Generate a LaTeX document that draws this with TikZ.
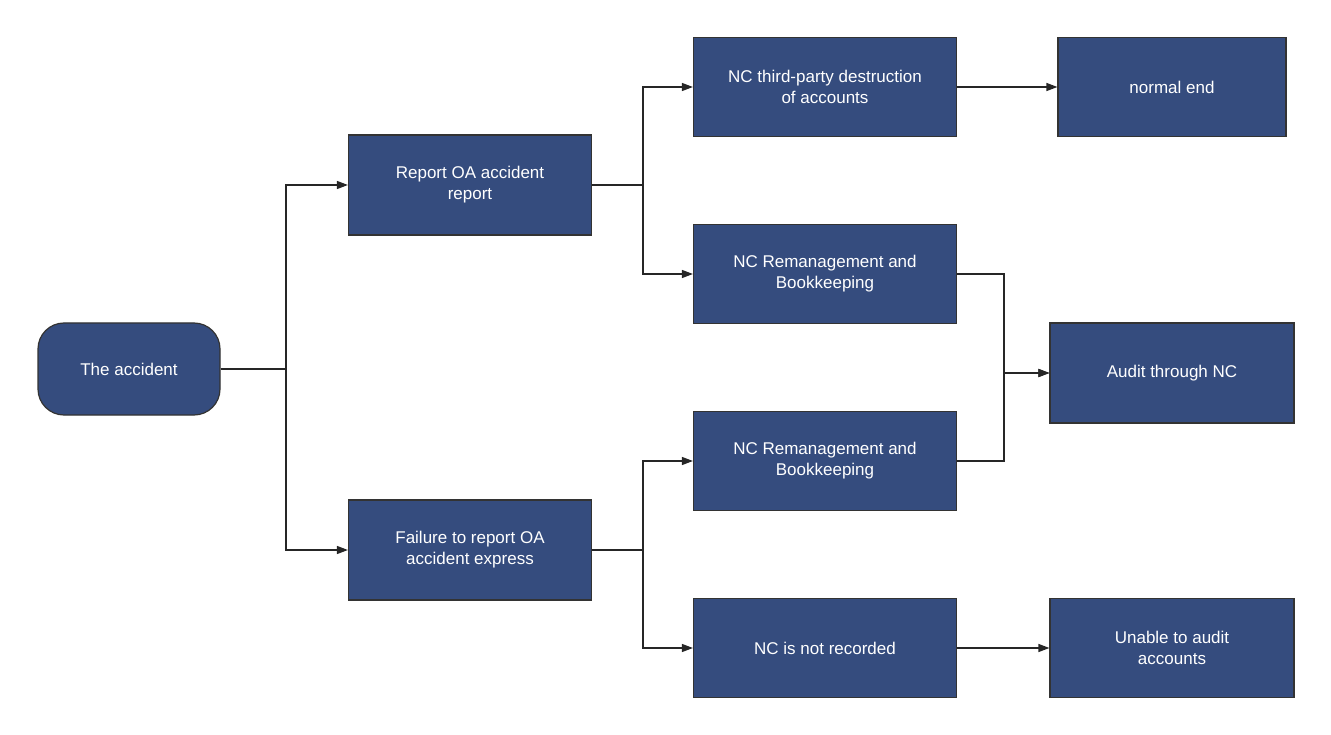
\documentclass[tikz,border=0pt]{standalone}
\usepackage{fontspec}
\setmainfont{Liberation Sans}
\usetikzlibrary{arrows.meta}
\begin{document}
\begin{tikzpicture}[x=1pt,y=-1pt,
 box/.style={draw=black!80,line width=1.2pt,fill={rgb,255:red,53;green,76;blue,126},text=white,align=center,font=\fontsize{17}{21}\selectfont,inner sep=0pt},
 arr/.style={-{Triangle[length=11pt,width=8pt]},line width=1.4pt,draw=black!85}]
\useasboundingbox (0,0) rectangle (1331,735);
\node[box,rounded corners=26pt,minimum width=182pt,minimum height=92pt] (acc) at (129,369) {The accident};
\node[box,minimum width=243pt,minimum height=100pt] (rep) at (470,185) {Report OA accident\\report};
\node[box,minimum width=243pt,minimum height=100pt] (fail) at (470,550) {Failure to report OA\\accident express};
\node[box,minimum width=263pt,minimum height=99pt] (third) at (825,87) {NC third-party destruction\\of accounts};
\node[box,minimum width=263pt,minimum height=99pt] (rem1) at (825,274) {NC Remanagement and\\Bookkeeping};
\node[box,minimum width=263pt,minimum height=99pt] (rem2) at (825,461) {NC Remanagement and\\Bookkeeping};
\node[box,minimum width=263pt,minimum height=99pt] (nrec) at (825,648) {NC is not recorded};
\node[box,minimum width=228pt,minimum height=99pt] (end) at (1172,87) {normal end};
\node[box,minimum width=244pt,minimum height=100pt] (aud) at (1172,373) {Audit through NC};
\node[box,minimum width=244pt,minimum height=99pt] (un) at (1172,648) {Unable to audit\\accounts};
\draw[arr] (acc.east) -- (286,369) |- (rep.west);
\draw[arr] (acc.east) -- (286,369) |- (fail.west);
\draw[arr] (rep.east) -- (643,185) |- (third.west);
\draw[arr] (rep.east) -- (643,185) |- (rem1.west);
\draw[arr] (fail.east) -- (643,550) |- (rem2.west);
\draw[arr] (fail.east) -- (643,550) |- (nrec.west);
\draw[arr] (rem1.east) -- (1004,274) |- (aud.west);
\draw[arr] (rem2.east) -- (1004,461) |- (aud.west);
\draw[arr] (third.east) -- (end.west);
\draw[arr] (nrec.east) -- (un.west);
\end{tikzpicture}
\end{document}
